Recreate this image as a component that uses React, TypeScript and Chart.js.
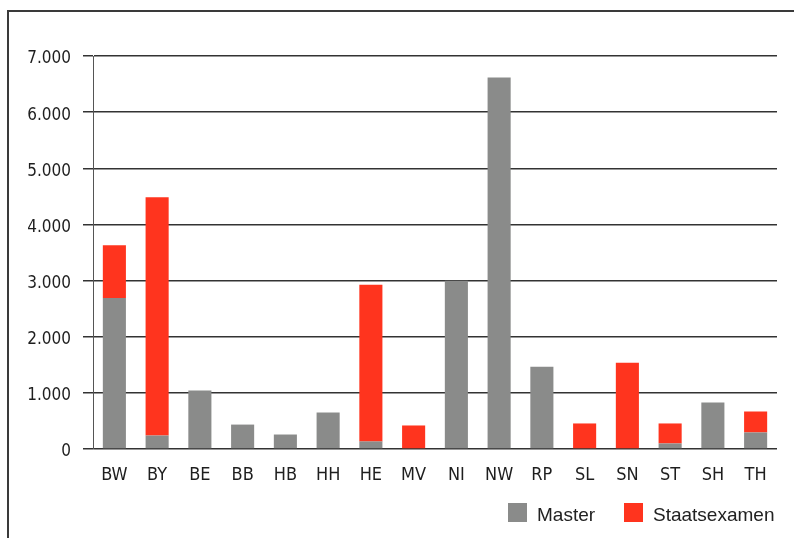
import React, { useEffect, useRef } from "react";
import { Chart, registerables } from "chart.js";

Chart.register(...registerables);

const categories = ["BW", "BY", "BE", "BB", "HB", "HH", "HE", "MV", "NI", "NW", "RP", "SL", "SN", "ST", "SH", "TH"];
const masterValues = [2690, 240, 1040, 435, 258, 650, 135, 0, 2995, 6618, 1467, 0, 0, 99, 828, 295];
const staatsexamenValues = [940, 4245, 0, 0, 0, 0, 2789, 419, 0, 0, 0, 455, 1538, 356, 0, 373];
const yTicks = [0, 1000, 2000, 3000, 4000, 5000, 6000, 7000];
const seriesLabels = ["Master", "Staatsexamen"];
const seriesColors = ["#8a8b8a", "#ff341e"];

const narrowFont = "'Liberation Sans Narrow', 'DejaVu Sans Condensed', 'Roboto Condensed', 'Liberation Sans', sans-serif";
const regularFont = "'Liberation Sans', Arial, sans-serif";

function fmt(v: number): string {
  return String(v).replace(/\B(?=(\d{3})+(?!\d))/g, ".");
}

export default function App() {
  const canvasRef = useRef<HTMLCanvasElement | null>(null);

  useEffect(() => {
    if (!canvasRef.current) return;
    const chart = new Chart(canvasRef.current, {
      type: "bar",
      data: {
        labels: categories,
        datasets: [
          {
            label: seriesLabels[0],
            data: masterValues,
            backgroundColor: seriesColors[0],
            borderWidth: 0,
            categoryPercentage: 1,
            barPercentage: 0.54,
          },
          {
            label: seriesLabels[1],
            data: staatsexamenValues,
            backgroundColor: seriesColors[1],
            borderWidth: 0,
            categoryPercentage: 1,
            barPercentage: 0.54,
          },
        ],
      },
      options: {
        animation: false,
        responsive: false,
        maintainAspectRatio: false,
        devicePixelRatio: 1,
        layout: { padding: { top: 56, right: 17, bottom: 0, left: 0 } },
        plugins: {
          legend: { display: false },
          tooltip: { enabled: false },
        },
        scales: {
          x: {
            stacked: true,
            grid: { display: false, drawTicks: false },
            border: { display: false },
            ticks: {
              color: "#1e1e1e",
              padding: 16,
              font: { family: narrowFont, size: 18 },
              maxRotation: 0,
              autoSkip: false,
            },
            afterFit: (s: any) => {
              s.height = 89;
            },
          },
          y: {
            stacked: true,
            min: 0,
            max: 7000,
            afterBuildTicks: (s: any) => {
              s.ticks = yTicks.map((v) => ({ value: v }));
            },
            grid: {
              color: "#333",
              lineWidth: 1.5,
              drawTicks: true,
              tickLength: 10,
              tickColor: "#333",
            },
            border: { display: true, color: "#555", width: 1 },
            ticks: {
              color: "#1e1e1e",
              padding: 12,
              labelOffset: 3,
              font: { family: narrowFont, size: 17 },
              callback: (v: any) => fmt(Number(v)),
            },
            afterFit: (s: any) => {
              s.width = 93;
            },
          },
        },
      },
    });
    return () => chart.destroy();
  }, []);

  const legendText: React.CSSProperties = {
    position: "absolute",
    fontFamily: regularFont,
    fontSize: 19,
    lineHeight: "19px",
    color: "#222",
    top: 505,
    whiteSpace: "nowrap",
  };

  return (
    <div style={{ position: "fixed", left: 0, top: 0, width: 794, height: 538, overflow: "hidden", background: "#fff" }}>
      <div
        style={{
          position: "absolute",
          left: 7,
          top: 10,
          right: -10,
          bottom: -10,
          borderLeft: "2px solid #3a3a3a",
          borderTop: "2px solid #3a3a3a",
        }}
      />
      <canvas ref={canvasRef} width={794} height={538} style={{ position: "absolute", left: 0, top: 0, width: 794, height: 538 }} />
      <div style={{ position: "absolute", left: 508, top: 503, width: 19, height: 19, background: seriesColors[0] }} />
      <div style={{ ...legendText, left: 537 }}>{seriesLabels[0]}</div>
      <div style={{ position: "absolute", left: 624, top: 503, width: 19, height: 19, background: seriesColors[1] }} />
      <div style={{ ...legendText, left: 653 }}>{seriesLabels[1]}</div>
    </div>
  );
}
